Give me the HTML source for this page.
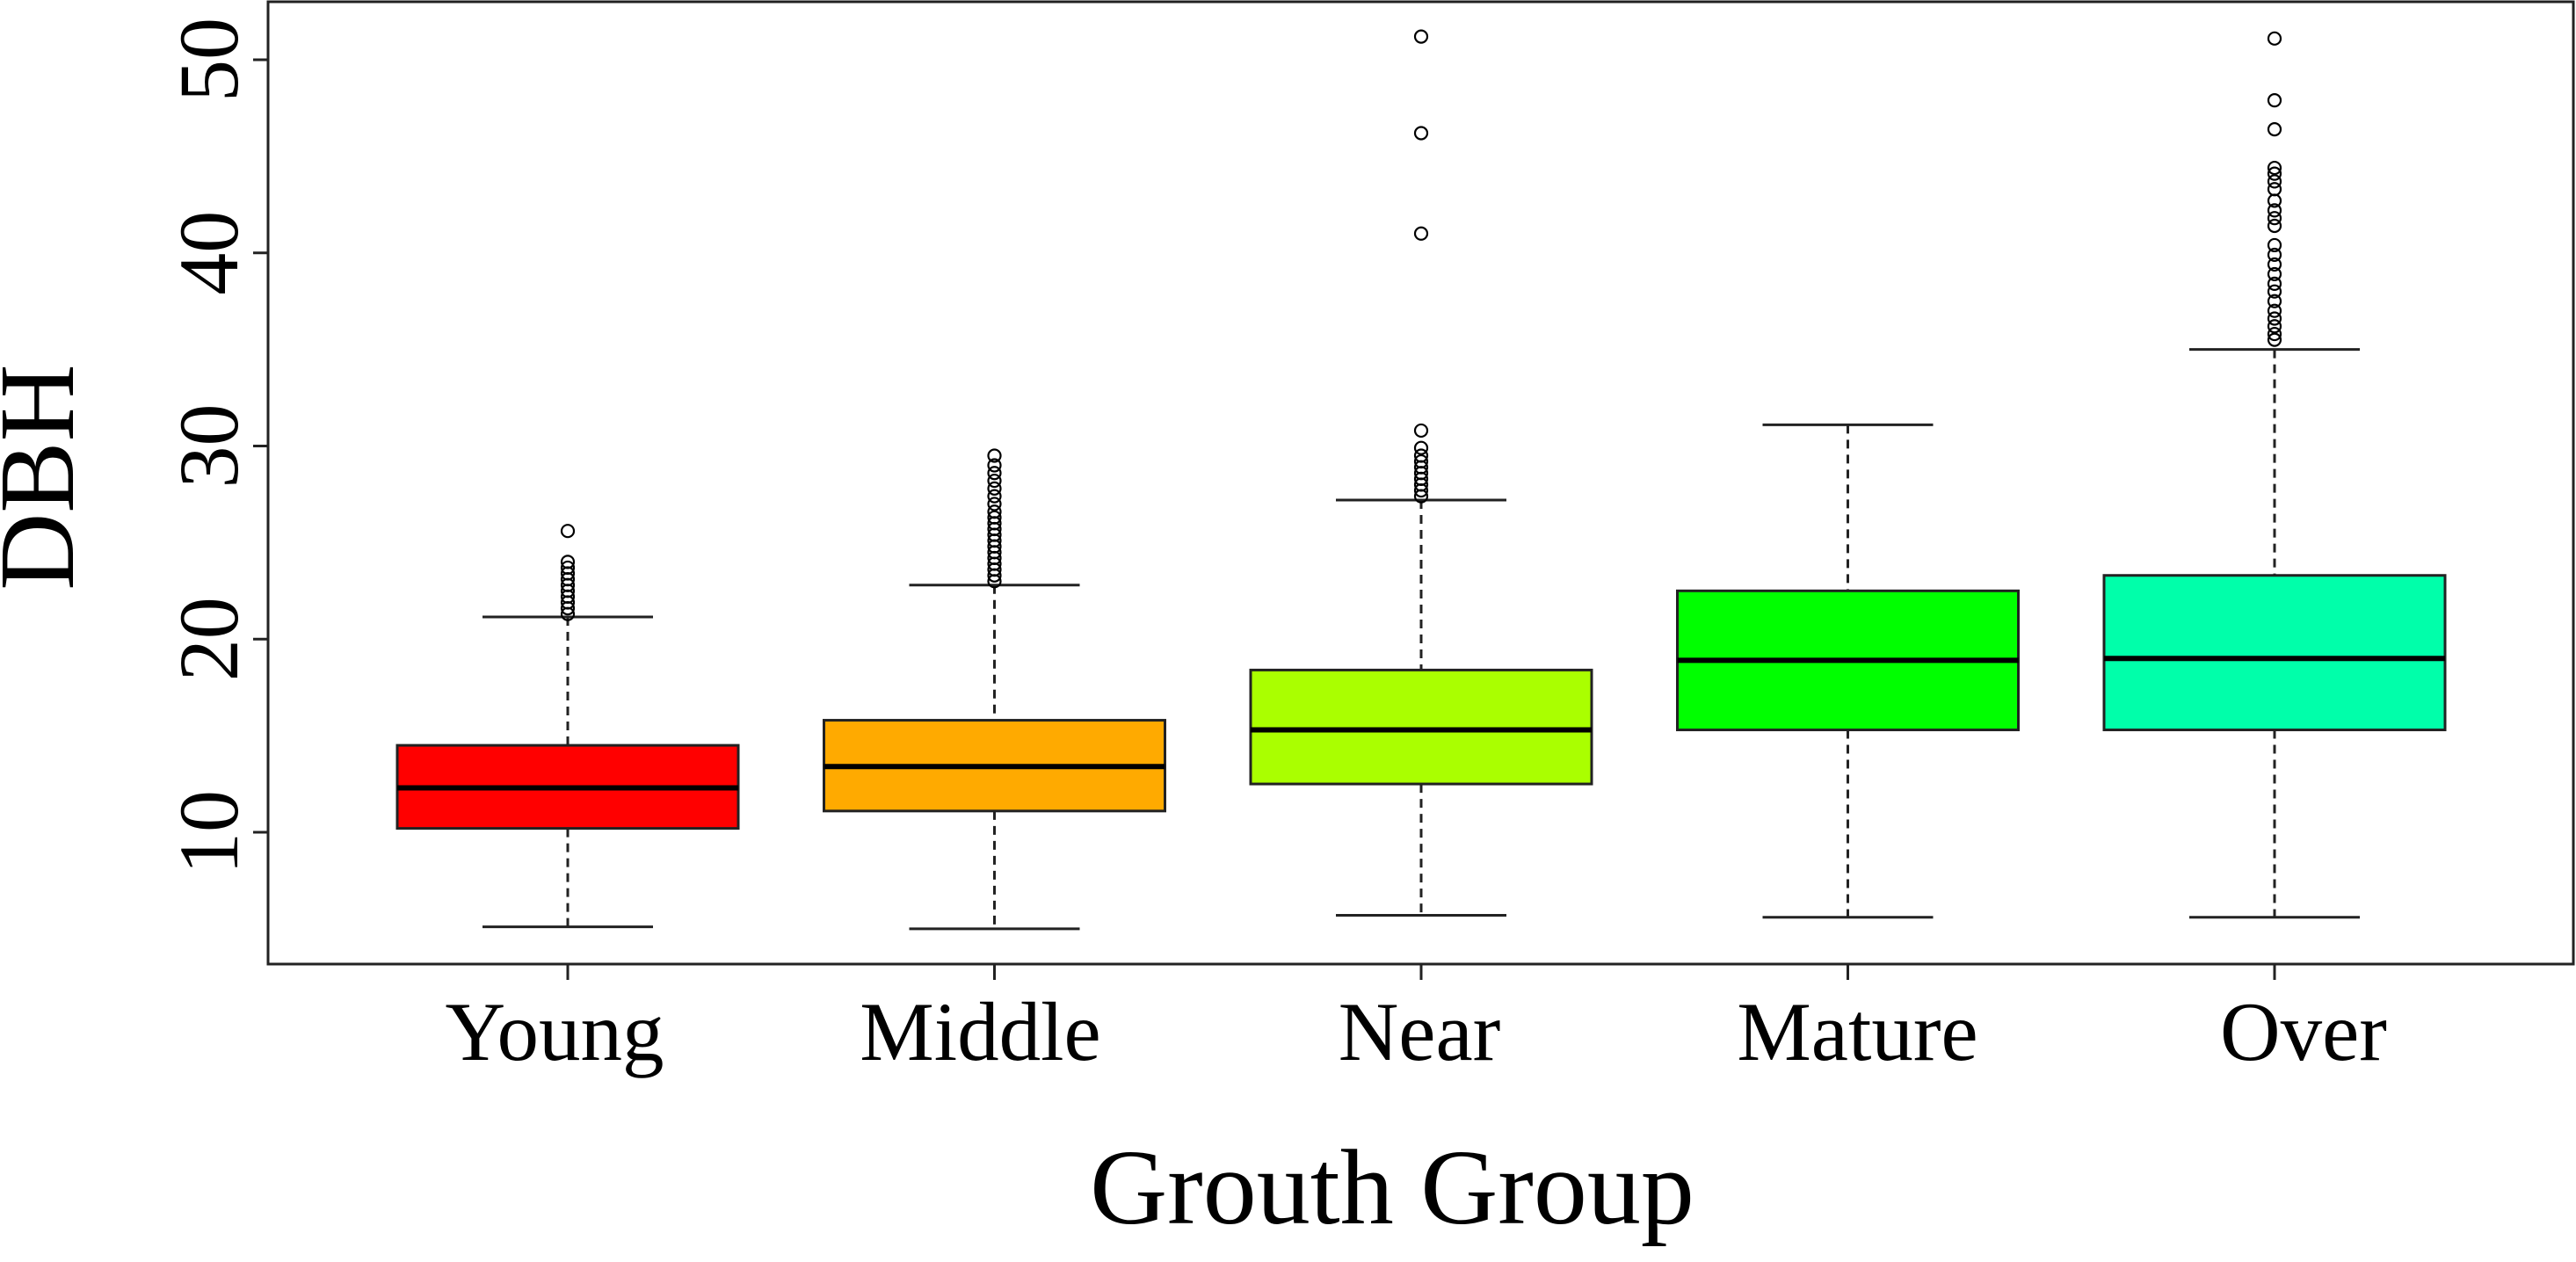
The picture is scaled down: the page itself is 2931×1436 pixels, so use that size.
<!DOCTYPE html>
<html><head><meta charset="utf-8"><style>
html,body{margin:0;padding:0;background:#fff;}
svg{display:block;font-family:"Liberation Serif",serif;}
</style></head><body>
<svg id="chart" width="2931" height="1436" viewBox="0 0 2931 1436" xmlns="http://www.w3.org/2000/svg">
<rect x="305" y="2" width="2623" height="1095" fill="none" stroke="#222" stroke-width="3"/>
<g id="yaxis"></g>
<g id="xaxis"></g>
<g id="boxes"></g>
<text transform="translate(83,543) rotate(-90)" text-anchor="middle" font-size="122">DBH</text>
<text x="1584" y="1392" text-anchor="middle" font-size="122">Grouth Group</text>
</svg>
<script>
const categories = ["Young","Middle","Near","Mature","Over"];
const colors = ["#ff0000","#ffaa00","#aaff00","#00ff00","#00ffaa"];
const lowerWhisker = [5.1,5.0,5.7,5.6,5.6];
const q1 = [10.2,11.1,12.5,15.3,15.3];
const median = [12.3,13.4,15.3,18.9,19.0];
const q3 = [14.5,15.8,18.4,22.5,23.3];
const upperWhisker = [21.15,22.8,27.2,31.1,35.0];
const outliersYoung = [21.3,21.6,21.9,22.2,22.5,22.8,23.1,23.4,23.7,24.0,25.6];
const outliersMiddle = [23.0,23.3,23.6,23.9,24.2,24.5,24.8,25.1,25.4,25.7,26.0,26.3,26.6,27.0,27.4,27.8,28.2,28.6,29.0,29.5];
const outliersNear = [27.4,27.7,28.0,28.3,28.6,28.9,29.2,29.5,29.9,30.8,41.0,46.2,51.2];
const outliersMature = [];
const outliersOver = [35.5,35.8,36.2,36.6,37.0,37.5,38.0,38.4,38.9,39.4,39.9,40.4,41.4,41.8,42.2,42.7,43.3,43.7,44.1,44.4,46.4,47.9,51.1];
const outliers = [outliersYoung,outliersMiddle,outliersNear,outliersMature,outliersOver];
const yTicks = [10,20,30,40,50];
const yTickLabels = ["10","20","30","40","50"];
const labelShift = [-15,-16,-2,11,33];

const NS="http://www.w3.org/2000/svg";
function y(v){return 947-(v-10)*21.975;}
function x(i){return 646+i*485.5;}
const halfBox=194, halfCap=97;
function mk(tag,attrs,parent){const e=document.createElementNS(NS,tag);for(const k in attrs)e.setAttribute(k,attrs[k]);parent.appendChild(e);return e;}

const ya=document.getElementById('yaxis');
yTicks.forEach((t,i)=>{
  const l=mk('line',{x1:288,x2:305,y1:y(t),y2:y(t),stroke:'#222','stroke-width':3},ya);
  
  
  const tx=mk('text',{transform:`translate(270,${y(t)}) rotate(-90)`,'text-anchor':'middle','font-size':96},ya);
  tx.textContent=yTickLabels[i];
  
  
});
const xa=document.getElementById('xaxis');
categories.forEach((c,i)=>{
  const l=mk('line',{x1:x(i),x2:x(i),y1:1097,y2:1115,stroke:'#222','stroke-width':3},xa);
  
  
  const tx=mk('text',{x:x(i)+labelShift[i],y:1206,'text-anchor':'middle','font-size':95},xa);
  tx.textContent=c;
  
  
});
const bx=document.getElementById('boxes');
categories.forEach((c,i)=>{
  const g=mk('g',{},bx);
  
  
  const cx=x(i);
  mk('line',{x1:cx,x2:cx,y1:y(upperWhisker[i]),y2:y(q3[i]),stroke:'#222','stroke-width':3,'stroke-dasharray':'10,7'},g);
  mk('line',{x1:cx,x2:cx,y1:y(q1[i]),y2:y(lowerWhisker[i]),stroke:'#222','stroke-width':3,'stroke-dasharray':'10,7'},g);
  mk('line',{x1:cx-halfCap,x2:cx+halfCap,y1:y(upperWhisker[i]),y2:y(upperWhisker[i]),stroke:'#222','stroke-width':3},g);
  mk('line',{x1:cx-halfCap,x2:cx+halfCap,y1:y(lowerWhisker[i]),y2:y(lowerWhisker[i]),stroke:'#222','stroke-width':3},g);
  mk('rect',{x:cx-halfBox,y:y(q3[i]),width:2*halfBox,height:y(q1[i])-y(q3[i]),fill:colors[i],stroke:'#222','stroke-width':3},g);
  mk('line',{x1:cx-halfBox,x2:cx+halfBox,y1:y(median[i]),y2:y(median[i]),stroke:'#000','stroke-width':6},g);
  outliers[i].forEach(v=>{
    const o=mk('circle',{cx:cx,cy:y(v),r:7,fill:'none',stroke:'#000','stroke-width':2.2},g);
    
    
  });
});
</script>
</body></html>
